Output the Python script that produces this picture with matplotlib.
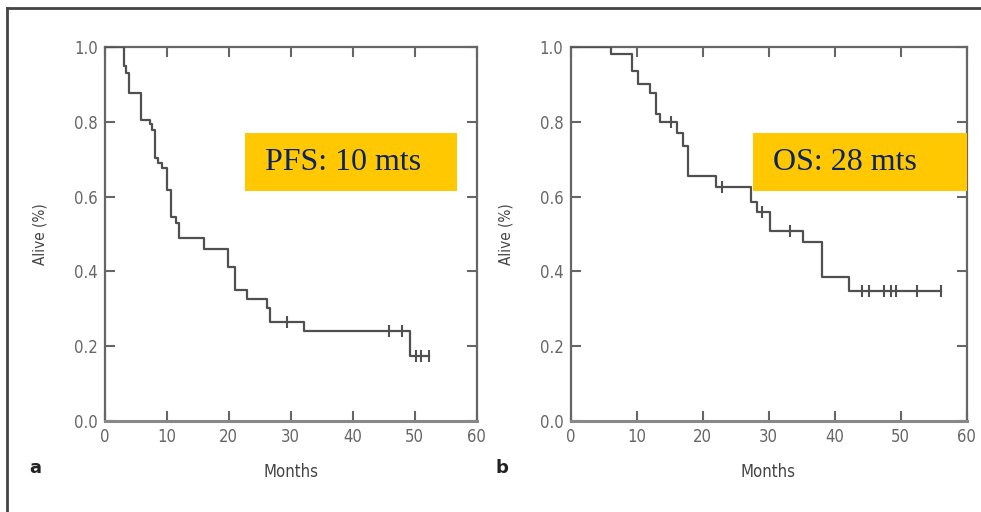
import matplotlib
matplotlib.use("Agg")
import matplotlib.pyplot as plt
from matplotlib.lines import Line2D
from matplotlib.patches import Rectangle
import numpy as np

# ---- data ----
pfs_event_months = [3.1, 3.4, 3.9, 5.8, 7.3, 7.6, 8.1, 8.6, 9.2, 10.0, 10.7, 11.5, 11.9,
                    16.0, 19.8, 21.0, 22.9, 26.2, 26.7, 32.2, 49.2]
pfs_survival = [0.95, 0.93, 0.877, 0.805, 0.795, 0.778, 0.703, 0.69, 0.676, 0.618, 0.546,
                0.53, 0.49, 0.459, 0.413, 0.35, 0.326, 0.302, 0.265, 0.24, 0.174]
pfs_censor_months = [29.4, 45.8, 48.0, 50.2, 51.1, 52.3]

os_event_months = [6.1, 9.3, 10.2, 12.0, 13.0, 13.6, 16.2, 17.1, 17.8, 22.0, 27.3, 28.3,
                   30.3, 35.3, 38.1, 42.2]
os_survival = [0.98, 0.935, 0.90, 0.877, 0.82, 0.80, 0.77, 0.735, 0.655, 0.627, 0.585,
               0.56, 0.507, 0.478, 0.385, 0.347]
os_censor_months = [15.3, 23.0, 29.0, 33.2, 44.2, 45.3, 47.5, 48.5, 49.3, 52.5, 56.2]

x_ticks = [0, 10, 20, 30, 40, 50, 60]
y_ticks = [0.0, 0.2, 0.4, 0.6, 0.8, 1.0]
panel_letters = ["a", "b"]
box_texts = ["PFS: 10 mts", "OS: 28 mts"]

LINE = "#505050"
AX = "#666666"
TXT = "#666666"
SANS = ["DejaVu Sans"]
STRETCH = "condensed"

fig = plt.figure(figsize=(9.81, 5.12), dpi=100)
W, H = 981, 512


def fx(px):
    return px / W


def fy(py):
    return 1 - py / H


def surv_at(t, times, surv):
    s = 1.0
    for tt, ss in zip(times, surv):
        if tt <= t:
            s = ss
    return s


def draw_panel(ax, times, surv, cens):
    end = max(cens + times)
    xs = [0] + list(times) + [end]
    ys = [1.0] + list(surv) + [surv[-1]]
    ax.step(xs, ys, where="post", color=LINE, lw=1.6, zorder=3)
    cy = [surv_at(c, times, surv) for c in cens]
    ax.plot(cens, cy, linestyle="none", marker="|", markersize=9,
            markeredgewidth=1.5, color=LINE, zorder=3)
    ax.set_xlim(0, 60)
    ax.set_ylim(0, 1.0)
    ax.set_xticks(x_ticks)
    ax.set_yticks(y_ticks)
    ax.set_xticklabels([str(v) for v in x_ticks], family=SANS, fontstretch=STRETCH,
                       fontsize=12, color=TXT)
    ax.set_yticklabels([f"{v:.1f}" for v in y_ticks], family=SANS, fontstretch=STRETCH,
                       fontsize=12, color=TXT)
    ax.tick_params(direction="in", length=7, width=1.5, color=AX, top=True, right=True,
                   pad=5)
    for s in ax.spines.values():
        s.set_color(AX)
        s.set_linewidth(1.6)
    ax.spines["bottom"].set_color("#888888")
    ax.spines["bottom"].set_linewidth(2.2)
    ax.set_xlabel("Months", family=SANS, fontstretch=STRETCH, fontsize=12,
                  color="#444444", labelpad=12)
    ax.set_ylabel("Alive (%)", family=SANS, fontstretch=STRETCH, fontsize=11,
                  color="#444444", labelpad=19)


ax1 = fig.add_axes([fx(105), fy(421), fx(476.5 - 105), fy(47) - fy(421)])
draw_panel(ax1, pfs_event_months, pfs_survival, pfs_censor_months)
ax2 = fig.add_axes([fx(570.5), fy(421), fx(966.5 - 570.5), fy(47) - fy(421)])
draw_panel(ax2, os_event_months, os_survival, os_censor_months)

# panel letters
fig.text(fx(35), fy(468), panel_letters[0], family=SANS, fontsize=13, fontweight="bold",
         color="#222222", ha="center", va="center")
fig.text(fx(502), fy(468), panel_letters[1], family=SANS, fontsize=13, fontweight="bold",
         color="#222222", ha="center", va="center")

# yellow boxes
for (x0, x1), txt in zip([(245, 457), (753, 967)], box_texts):
    fig.patches.append(Rectangle((fx(x0), fy(191)), fx(x1 - x0), fy(133) - fy(191),
                                 transform=fig.transFigure, facecolor="#FFC800",
                                 edgecolor="none", zorder=10))
    fig.text(fx(x0 + 20), fy(163), txt, family=["Liberation Serif", "DejaVu Serif"],
             fontsize=23, color="#0B2361", ha="left", va="center", zorder=11)

# outer frame (top and left visible)
fig.lines.append(Line2D([fx(7), fx(7)], [0, fy(8)], transform=fig.transFigure,
                        color="#444444", lw=2))
fig.lines.append(Line2D([fx(7), 1], [fy(8), fy(8)], transform=fig.transFigure,
                        color="#444444", lw=2))

fig.savefig("out.png", dpi=100)
